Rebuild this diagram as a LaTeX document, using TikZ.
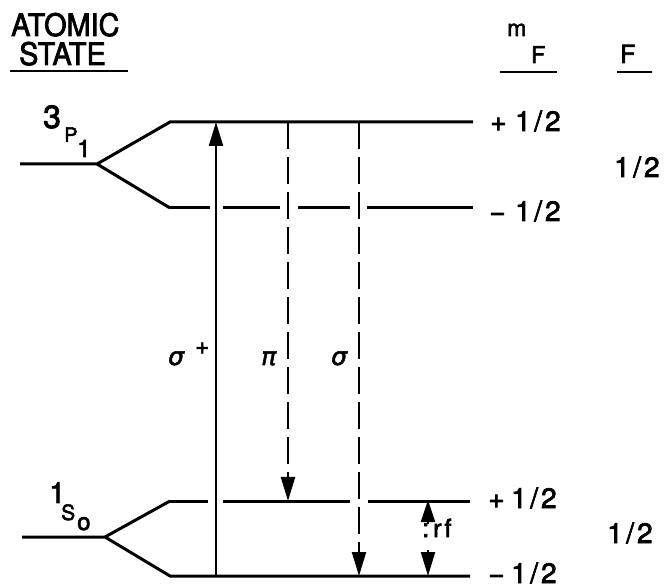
\documentclass[tikz,border=0pt]{standalone}
\usepackage{fontspec}
\setmainfont{TeX Gyre Heros}
\newfontfamily\lt{TeX Gyre Heros}[FakeBold=2.5]
\newfontfamily\grk{DejaVu Sans}[FakeBold=2]
\usetikzlibrary{arrows.meta}
\newcommand\halfv{1\kern3.5pt/\kern3pt2}
\begin{document}
\begin{tikzpicture}[x=1pt,y=-1pt,
  t/.style={inner sep=0pt, anchor=base west, font=\lt\fontsize{#1}{#1}\selectfont},
  g/.style={inner sep=0pt, anchor=base west, font=\grk\itshape\fontsize{#1}{#1}\selectfont},
  level/.style={line width=3pt},
  rule/.style={line width=2.6pt},
  trans/.style={line width=2.2pt, -{Triangle[length=24pt,width=14pt]}},
  dtrans/.style={trans, dash pattern=on 27pt off 8pt}]
\useasboundingbox (0,0) rectangle (665,588);
% headers
\node[t=31] (atomic) at (11,36) {\scalebox{0.93}[1]{ATOMIC}};
\node[t=31] (state) at (19,65) {\scalebox{0.93}[1]{STATE}};
\coordinate (ul1) at (10,71); \coordinate (ul2) at (128,71);
\draw[rule] (ul1) -- (ul2);
\node[t=23] (mm) at (507,36) {m};
\node[t=23] (mF) at (531,63) {F};
\coordinate (ml1) at (500,72); \coordinate (ml2) at (557,72);
\draw[rule] (ml1) -- (ml2);
\node[t=25] (FF) at (620,63) {F};
\coordinate (fl1) at (617,72); \coordinate (fl2) at (652,72);
\draw[rule] (fl1) -- (fl2);
% upper state 3P1
\node[t=32] (t3) at (43,128) {3};
\node[t=20] (tP) at (64,142) {P};
\node[t=24] (t1) at (77,157) {1};
\coordinate (u0) at (20,164); \coordinate (uv) at (97,164);
\coordinate (ua) at (170,122); \coordinate (uae) at (473,122);
\coordinate (ub) at (170,208);
\draw[level] (u0) -- (uv) -- (ua) -- (uae);
\draw[level] (uv) -- (ub);
\coordinate (ub1) at (210,208); \coordinate (ub2) at (223,208);
\coordinate (ub3) at (280,208); \coordinate (ub4) at (298,208);
\coordinate (ub5) at (350,208); \coordinate (ub6) at (367,208);
\coordinate (ube) at (473,208);
\draw[level] (ub) -- (ub1) (ub2) -- (ub3) (ub4) -- (ub5) (ub6) -- (ube);
\node[t=28] (upp) at (490,131) {+};
\node[t=28] (uph) at (515,131) {\halfv};
\node[t=28] (ump) at (489,221) {\textminus};
\node[t=28] (umh) at (515,221) {\halfv};
\node[t=28] (uF) at (614,177) {\halfv};
% lower state 1S0
\node[t=29] (s1) at (49,503) {1};
\node[t=21] (sS) at (61,520) {S};
\node[t=24] (so) at (77,530) {o};
\coordinate (l0) at (22,537); \coordinate (lv) at (105,537);
\coordinate (la) at (170,501); \coordinate (lb) at (170,576);
\coordinate (lbe) at (470,576);
\draw[level] (l0) -- (lv) -- (lb) -- (lbe);
\draw[level] (lv) -- (la);
\coordinate (la1) at (208,501); \coordinate (la2) at (223,501);
\coordinate (la3) at (350,501); \coordinate (la4) at (368,501);
\coordinate (lae) at (470,501);
\draw[level] (la) -- (la1) (la2) -- (la3) (la4) -- (lae);
\node[t=28] (lpp) at (488,508) {+};
\node[t=28] (lph) at (511,508) {\halfv};
\node[t=28] (lmp) at (488,583) {\textminus};
\node[t=28] (lmh) at (511,583) {\halfv};
\node[t=28] (lF) at (607,543) {\halfv};
% transitions
\coordinate (spb) at (216,576); \coordinate (spt) at (216,122);
\draw[trans] (spb) -- (spt);
\coordinate (pit) at (288,122); \coordinate (pib) at (288,501);
\draw[dtrans] (pit) -- (pib);
\coordinate (smt) at (359,122); \coordinate (smb) at (359,576);
\draw[dtrans] (smt) -- (smb);
\node[g=25] (lsp) at (168,365) {σ};
\node[t=24] (lspp) at (195,354) {+};
\node[g=25] (lpi) at (261,365) {π};
\node[g=25] (lsm) at (331,365) {σ};
% rf
\coordinate (rft) at (428,500); \coordinate (rfm1) at (428,524);
\coordinate (rfb) at (428,576); \coordinate (rfm2) at (428,550);
\draw[trans, -{Triangle[length=22pt,width=14pt]}] (rfm1) -- (rft);
\draw[trans] (rfm2) -- (rfb);
\node[t=26] (rfc) at (422,537) {:};
\node[t=25] (rf) at (433,537) {r\kern3pt f};
\end{tikzpicture}
\end{document}
